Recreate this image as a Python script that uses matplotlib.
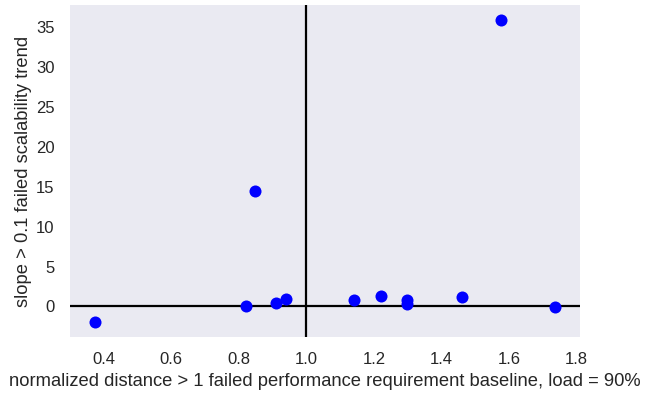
import matplotlib
matplotlib.use("Agg")
import matplotlib.pyplot as plt

x_vals = [0.375, 0.822, 0.847, 0.911, 0.939, 1.141, 1.220, 1.299, 1.298, 1.461, 1.576, 1.737]
y_vals = [-1.95, 0.08, 14.5, 0.42, 0.96, 0.84, 1.34, 0.84, 0.34, 1.25, 35.9, -0.05]

plt.rcParams['font.family'] = ['Liberation Sans', 'DejaVu Sans']
fig = plt.figure(figsize=(6.59, 3.94), dpi=100)
ax = fig.add_axes([0.106, 0.145, 0.774, 0.842])
ax.set_facecolor('#EAEAF2')
for s in ax.spines.values():
    s.set_visible(False)

ax.axhline(0, color='black', lw=1.6, zorder=1)
ax.axvline(1.0, color='black', lw=1.6, zorder=1)
ax.scatter(x_vals, y_vals, color='blue', s=75, zorder=3, linewidths=0)

ax.set_xlim(0.30, 1.81)
ax.set_ylim(-3.8, 37.7)
ax.set_xticks([0.4, 0.6, 0.8, 1.0, 1.2, 1.4, 1.6, 1.8])
ax.set_yticks([0, 5, 10, 15, 20, 25, 30, 35])
ax.tick_params(axis='x', length=0, labelsize=12, colors='#262626', pad=11)
ax.tick_params(axis='y', length=0, labelsize=12, colors='#262626', pad=11)
ax.set_xlabel('normalized distance > 1 failed performance requirement baseline, load = 90%',
              fontsize=13.2, color='#262626', labelpad=4)
ax.set_ylabel('slope > 0.1 failed scalability trend', fontsize=13.2, color='#262626', labelpad=3)

fig.savefig('out.png', dpi=100)
